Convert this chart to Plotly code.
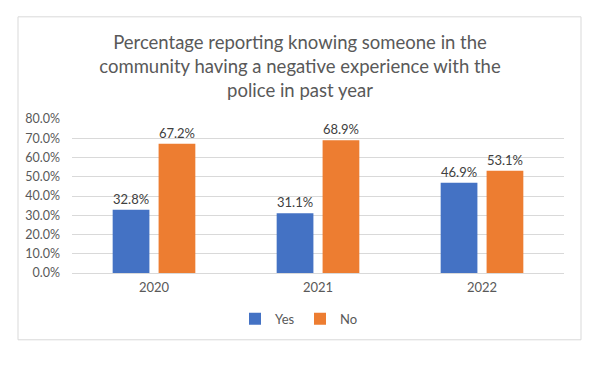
import plotly.graph_objects as go

years = ["2020", "2021", "2022"]
yes_vals = [32.8, 31.1, 46.9]
no_vals = [67.2, 68.9, 53.1]
y_ticks = [0, 10, 20, 30, 40, 50, 60, 70, 80]
y_tick_labels = [f"{v:.1f}%" for v in y_ticks]
title_text = ("Percentage reporting knowing someone in the<br>"
              "community having a negative experience with the<br>"
              "police in past year")

FONT = "Lato, 'Open Sans', sans-serif"
GRAY = "#595959"

fig = go.Figure()
fig.add_trace(go.Bar(
    x=years, y=yes_vals, name="Yes", marker=dict(color="#4472C4", line=dict(width=0)),
    text=[f"{v:.1f}%" for v in yes_vals], textposition="outside",
    textfont=dict(size=13, color="#404040", family=FONT), cliponaxis=False,
))
fig.add_trace(go.Bar(
    x=years, y=no_vals, name="No", marker=dict(color="#ED7D31", line=dict(width=0)),
    text=[f"{v:.1f}%" for v in no_vals], textposition="outside",
    textfont=dict(size=13, color="#404040", family=FONT), cliponaxis=False,
))

OFF = 8  # default page body margin
W, H = 600 - 2 * OFF, 373 - 2 * OFF
# target page pixel positions of the plot area
PL, PR, PT, PB = 72, 564, 118.5, 273
L = PL - OFF
R = W - (PR - OFF)
T = PT - OFF
B = H - (PB - OFF)
pw = W - L - R
ph = H - T - B

def px_to_paper_x(px):
    return (px - OFF - L) / pw

def px_to_paper_y(py):
    return (H - B - (py - OFF)) / ph

fig.update_layout(
    width=W, height=H,
    margin=dict(l=L, r=R, t=T, b=B, pad=0),
    paper_bgcolor="white", plot_bgcolor="white",
    barmode="group", bargap=0.44, bargroupgap=0.2,
    font=dict(family=FONT, color=GRAY, size=13),
    title=dict(text=title_text, x=(300 - OFF) / W, xanchor="center", xref="container",
               y=1 - (49 - OFF) / H, yanchor="top", yref="container",
               font=dict(size=18.5, color=GRAY, family=FONT)),
    showlegend=True,
    legend=dict(orientation="h", x=px_to_paper_x(300), xanchor="center",
                y=px_to_paper_y(319), yanchor="middle",
                font=dict(size=13, color=GRAY, family=FONT),
                itemwidth=30, entrywidth=20, traceorder="normal"),
    xaxis=dict(showgrid=False, showline=True, linecolor="#d9d9d9", linewidth=1,
               ticks="", tickfont=dict(size=13, color=GRAY), ticklabelstandoff=2),
    yaxis=dict(range=[0, 80], tickvals=y_ticks, ticktext=y_tick_labels,
               showgrid=True, gridcolor="#d9d9d9", gridwidth=1,
               zeroline=False, showline=False, ticks="",
               tickfont=dict(size=12.5, color=GRAY), ticklabelstandoff=11),
    shapes=[dict(type="rect", xref="paper", yref="paper",
                 x0=px_to_paper_x(18), x1=px_to_paper_x(581),
                 y0=px_to_paper_y(340), y1=px_to_paper_y(16),
                 line=dict(color="#d9d9d9", width=1), fillcolor="rgba(0,0,0,0)",
                 layer="below")],
)

fig.write_html("out.html")
